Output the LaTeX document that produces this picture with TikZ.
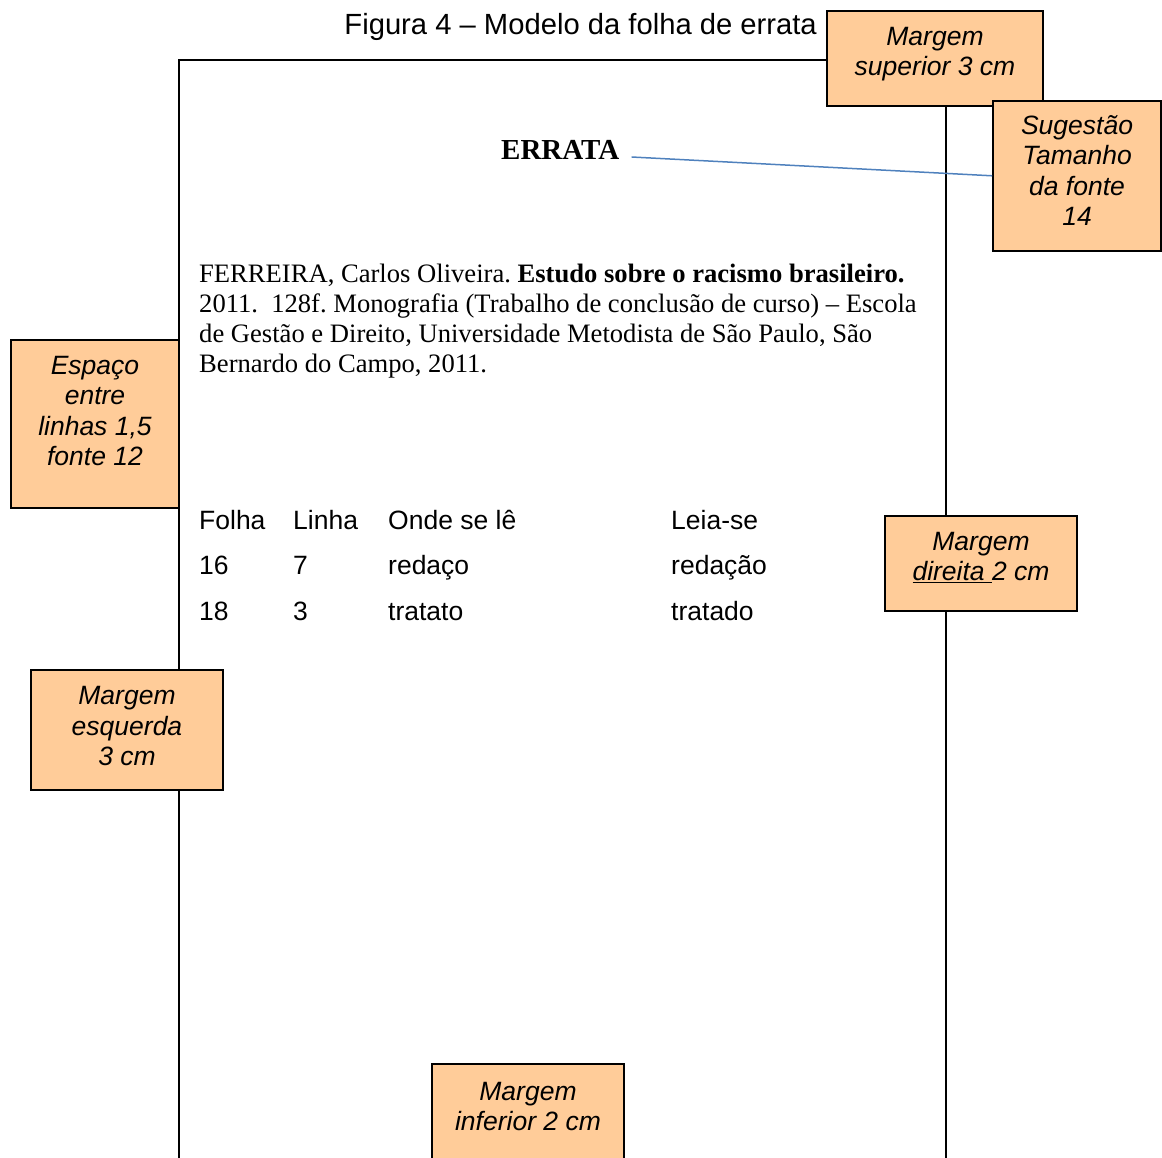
\documentclass[tikz,border=0pt]{standalone}
\usepackage{fontspec}
\setmainfont{Liberation Serif}
\setsansfont{Liberation Sans}
\definecolor{boxorange}{RGB}{255,204,153}
\definecolor{lineblue}{RGB}{79,129,189}
\frenchspacing

\begin{document}
\begin{tikzpicture}[x=1pt,y=-1pt,
  note box/.style={draw=black,line width=1.6pt,fill=boxorange,align=center,anchor=north,inner sep=0pt,font=\sffamily\itshape\fontsize{26.5}{30.5}\selectfont},
  body text/.style={anchor=base west,inner sep=0pt,font=\rmfamily\fontsize{26.6}{30}\selectfont},
  table text/.style={anchor=base west,inner sep=0pt,font=\sffamily\fontsize{26.5}{30}\selectfont}]
  \useasboundingbox (0,0) rectangle (1162,1158);

  \node[anchor=base east,inner sep=0pt,font=\sffamily\fontsize{29.2}{34}\selectfont] (titulo) at (817,35) {Figura 4 – Modelo da folha de errata};

  % folha
  \draw[line width=2pt] (179,1170) -- (179,60) -- (946,60) -- (946,1170);

  \node[anchor=base west,inner sep=0pt,font=\rmfamily\bfseries\fontsize{29}{34}\selectfont] (errata) at (501,160) {ERRATA};
  \node[body text,align=left] (referencia) at (199,372) {FERREIRA, Carlos Oliveira. \textbf{Estudo sobre o racismo brasileiro.}\\2011.\ \ 128f. Monografia (Trabalho de conclusão de curso) – Escola\\de Gestão e Direito, Universidade Metodista de São Paulo, São\\Bernardo do Campo, 2011.};

  \foreach \folha/\linha/\onde/\leia [count=\r] in {Folha/Linha/Onde se lê/Leia-se,16/7/redaço/redação,18/3/tratato/tratado}{
    \node[table text] (folha\r) at (199,{529+(\r-1)*45.5}) {\folha};
    \node[table text] (linha\r) at (293,{529+(\r-1)*45.5}) {\linha};
    \node[table text] (onde\r) at (388,{529+(\r-1)*45.5}) {\onde};
    \node[table text] (leia\r) at (671,{529+(\r-1)*45.5}) {\leia};
  }

  % caixas de margem
  \node[note box,minimum width=216pt,text height=65pt,text depth=30pt] (superior) at (935,10) {Margem\\superior 3 cm};
  \node[note box,minimum width=168pt,text height=125pt,text depth=25pt] (sugestao) at (1077,100) {Sugestão\\Tamanho\\da fonte\\14};
  \node[note box,minimum width=168pt,text height=126pt,text depth=42pt] (espaco) at (95,339) {Espaço\\entre\\linhas 1,5\\fonte 12};
  \node[note box,minimum width=192pt,text height=96pt,text depth=24pt] (esquerda) at (127,669) {Margem\\esquerda\\3 cm};
  \node[note box,minimum width=192pt,text height=65pt,text depth=30pt] (direita) at (981,515) {Margem\\\underline{direita\ }2 cm};
  \node[note box,minimum width=192pt,text height=67pt,text depth=50pt] (inferior) at (528,1063) {Margem\\inferior 2 cm};

  \draw[lineblue,line width=1.5pt] ([xshift=12pt,yshift=3pt]errata.base east) -- (sugestao.west);
\end{tikzpicture}
\end{document}
